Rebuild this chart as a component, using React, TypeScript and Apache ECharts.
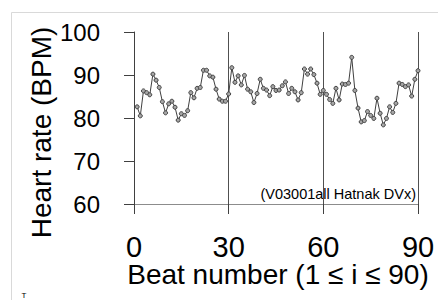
import React, { useEffect, useRef } from "react";
import * as echarts from "echarts";

const heartRate: number[] = [
  82.6, 80.5, 86.3, 85.9, 85.4, 90.2, 88.8, 87.1, 83.8, 81.2,
  83.3, 83.9, 82.5, 79.5, 81.0, 80.6, 81.7, 85.9, 84.7, 86.9,
  87.1, 91.1, 91.1, 89.8, 89.5, 86.7, 84.4, 83.9, 83.9, 85.6,
  91.7, 88.3, 89.8, 87.7, 89.9, 86.7, 86.1, 83.6, 85.7, 89.0,
  86.9, 86.5, 85.2, 87.3, 86.4, 86.5, 87.5, 88.4, 85.7, 86.9,
  86.1, 84.2, 85.9, 91.4, 90.2, 91.4, 90.1, 88.1, 85.5, 86.4,
  85.5, 84.3, 83.4, 86.9, 84.2, 87.9, 87.8, 88.1, 94.1, 86.4,
  82.3, 79.1, 79.4, 81.5, 80.6, 79.9, 84.6, 81.1, 78.4, 79.9,
  82.6, 81.3, 83.4, 88.1, 87.8, 87.3, 87.7, 85.1, 89.0, 91.0,
];

const xTitle = "Beat number (1 \u2264 i \u2264 90)";
const yTitle = "Heart rate (BPM)";
const note = "(V03001all Hatnak DVx)";

export default function App() {
  const ref = useRef<HTMLDivElement>(null);
  useEffect(() => {
    if (!ref.current) return;
    const chart = echarts.init(ref.current, null, { renderer: "svg" });
    const font = "Liberation Sans, Arial, sans-serif";
    chart.setOption({
      animation: false,
      backgroundColor: "#ffffff",
      grid: { left: 134, top: 32, width: 284, height: 172, outerBoundsMode: "none", containLabel: false },
      xAxis: {
        type: "value",
        min: 0,
        max: 90,
        interval: 30,
        axisLine: { show: true, onZero: false, lineStyle: { color: "#8c8c8c", width: 1 } },
        axisTick: { show: true, inside: false, length: 10, lineStyle: { color: "#404040", width: 1 } },
        splitLine: { show: true, lineStyle: { color: "#505050", width: 1 } },
        axisLabel: { fontSize: 29, lineHeight: 24, color: "#000", fontFamily: font, margin: 31 },
      },
      yAxis: {
        type: "value",
        min: 60,
        max: 100,
        interval: 10,
        axisLine: { show: true, lineStyle: { color: "#404040", width: 1 } },
        axisTick: { show: true, inside: false, length: 10, lineStyle: { color: "#404040", width: 1 } },
        splitLine: { show: false },
        axisLabel: { fontSize: 24, color: "#000", fontFamily: font, margin: 34 },
      },
      series: [
        {
          type: "line",
          data: heartRate.map((v, i) => [i + 1, v]),
          symbol: "circle",
          symbolSize: 4,
          showSymbol: true,
          lineStyle: { color: "#404040", width: 1 },
          itemStyle: { color: "#a6a6a6", borderColor: "#404040", borderWidth: 1 },
        },
      ],
      graphic: [
        {
          type: "rect",
          shape: { x: 11.5, y: 12.5, width: 440, height: 300 },
          style: { fill: "none", stroke: "#d9d9d9", lineWidth: 1 },
          z: -10,
          silent: true,
        },
        {
          type: "text",
          x: 278,
          y: 274.5,
          style: { text: xTitle, fontSize: 28, lineHeight: 22, fontFamily: font, fill: "#000", textAlign: "center", textVerticalAlign: "middle" },
        },
        {
          type: "text",
          x: 41,
          y: 132.5,
          rotation: Math.PI / 2,
          style: { text: yTitle, fontSize: 28, fontFamily: font, fill: "#000", textAlign: "center", textVerticalAlign: "middle" },
        },
        {
          type: "text",
          x: 416,
          y: 194,
          style: { text: note, fontSize: 14.5, fontFamily: font, fill: "#000", textAlign: "right", textVerticalAlign: "middle" },
        },
        {
          type: "text",
          x: 24,
          y: 291,
          style: { text: "T", fontSize: 8, fontFamily: font, fill: "#000", textAlign: "center", textVerticalAlign: "top" },
        },
      ],
    });
    return () => chart.dispose();
  }, []);
  return (
    <div
      ref={ref}
      style={{ position: "fixed", left: 0, top: 0, width: 438, height: 300 }}
    />
  );
}
